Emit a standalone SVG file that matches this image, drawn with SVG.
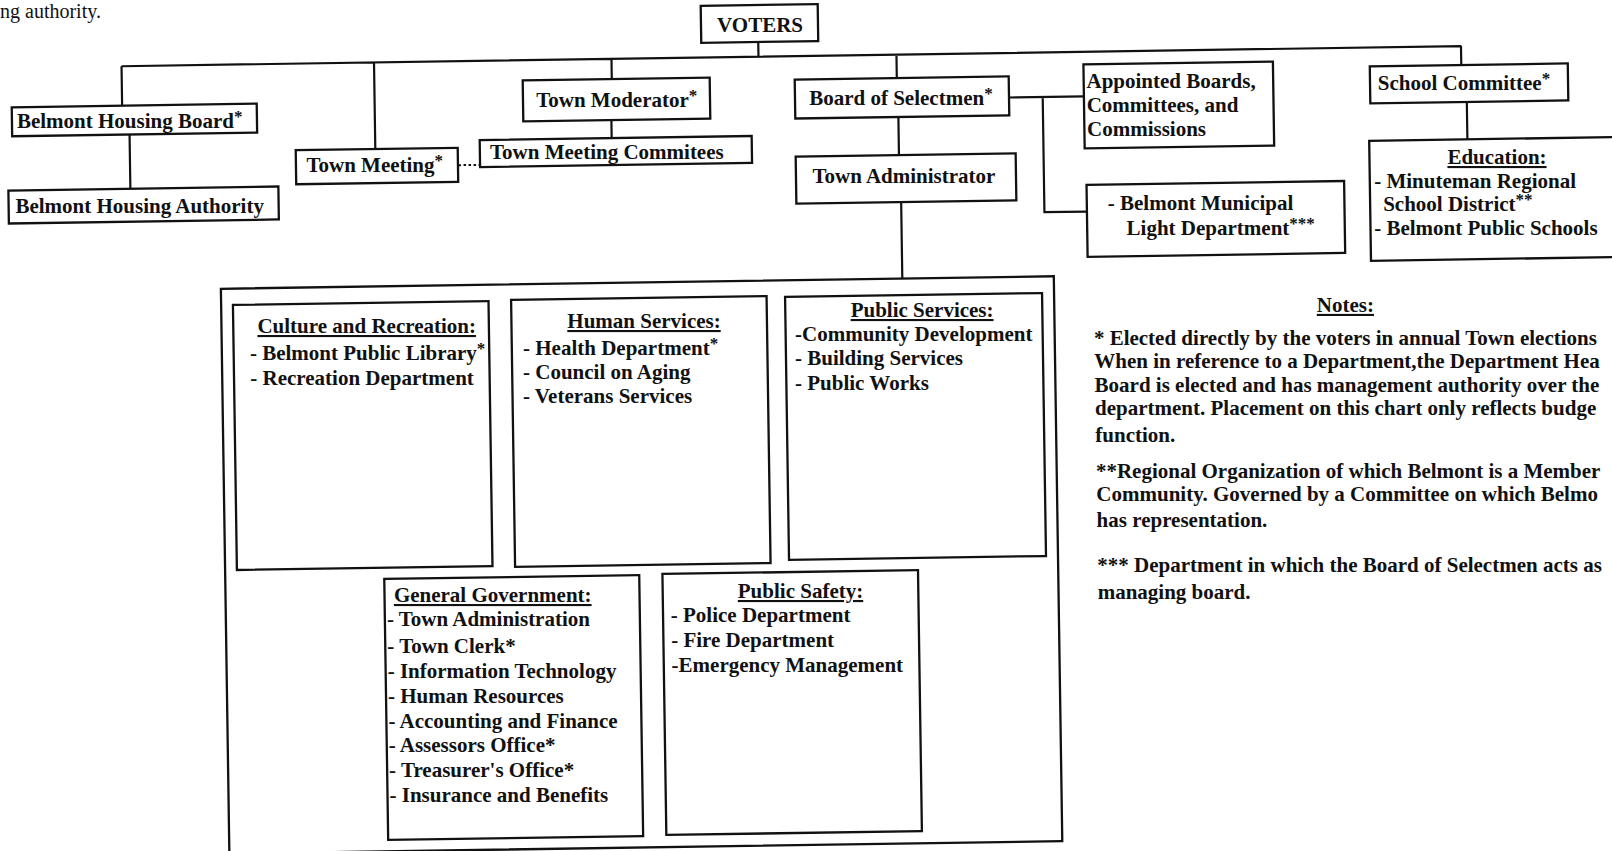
<svg xmlns="http://www.w3.org/2000/svg" width="1612" height="851" viewBox="0 0 1612 851">
<style>
.b{fill:none;stroke:#111;stroke-width:2.3}
.c{fill:none;stroke:#111;stroke-width:2.2}
.d{fill:none;stroke:#111;stroke-width:2;stroke-dasharray:2.5 2.5}
text{font-family:"Liberation Serif","DejaVu Serif",serif;font-size:21px;font-weight:bold;fill:#111}
.u{text-decoration:underline}
.m{text-anchor:middle}
.s{font-size:17px}
.r{font-weight:normal;font-size:20px}
</style>
<rect width="1612" height="851" fill="#fff"/>
<text class="r" x="0" y="18">ng authority.</text>
<g id="connectors" transform="rotate(-0.86 806 425)">
<path class="c" d="M764 41.3V56M127 56H1467M127 56V95.4M134 124.4V178.6M379.5 56V142.6M617 56V76.2M616 117.2V135.2M902 56V79.4M903 118.4V156.5M904.5 203.5V280M1013.9 100.6H1088.8M1047.6 100.6V215.8H1090.1M1466.6 56V74.9M1471.6 111.9V149.3"/>
<path class="d" d="M462.5 160H484"/>
</g>
<g id="voters"><rect class="b" transform="rotate(-0.86 806 425)" x="707" y="4.3" width="117" height="37"/><text class="m" x="760.1" y="32.1">VOTERS</text></g>
<g id="housing-board"><rect class="b" transform="rotate(-0.86 806 425)" x="16.6" y="95.4" width="245" height="29"/><text x="16.9" y="127.9">Belmont Housing Board<tspan class="s" dy="-6">*</tspan></text></g>
<g id="housing-authority"><rect class="b" transform="rotate(-0.86 806 425)" x="12" y="178.6" width="270" height="33"/><text x="15.4" y="213">Belmont Housing Authority</text></g>
<g id="town-meeting"><rect class="b" transform="rotate(-0.86 806 425)" x="299.9" y="142.6" width="162" height="34"/><text x="306.4" y="172">Town Meeting<tspan class="s" dy="-6">*</tspan></text></g>
<g id="town-meeting-committees"><rect class="b" transform="rotate(-0.86 806 425)" x="484" y="135.2" width="272" height="27"/><text x="490" y="158.5">Town Meeting Commitees</text></g>
<g id="town-moderator"><rect class="b" transform="rotate(-0.86 806 425)" x="527.9" y="76.2" width="187" height="41"/><text x="536.2" y="106.5">Town Moderator<tspan class="s" dy="-6">*</tspan></text></g>
<g id="board-of-selectmen"><rect class="b" transform="rotate(-0.86 806 425)" x="799.9" y="79.4" width="214" height="39"/><text x="809.2" y="104.9">Board of Selectmen<tspan class="s" dy="-6">*</tspan></text></g>
<g id="town-administrator"><rect class="b" transform="rotate(-0.86 806 425)" x="799.7" y="156.5" width="220" height="47"/><text x="812.4" y="183">Town Administrator</text></g>
<g id="appointed"><rect class="b" transform="rotate(-0.86 806 425)" x="1088.8" y="68.6" width="189.5" height="84"/><text x="1086.5" y="87.5">Appointed Boards,</text><text x="1086.7" y="112">Committees, and</text><text x="1087" y="136">Commissions</text></g>
<g id="light-dept"><rect class="b" transform="rotate(-0.86 806 425)" x="1090.1" y="189.1" width="257.6" height="72"/><text x="1107.8" y="210">- Belmont Municipal</text><text x="1126.6" y="234.5">Light Department<tspan class="s" dy="-6">***</tspan></text></g>
<g id="school-committee"><rect class="b" transform="rotate(-0.86 806 425)" x="1375.1" y="74.9" width="198" height="37"/><text x="1377.8" y="90">School Committee<tspan class="s" dy="-6">*</tspan></text></g>
<g id="education"><path class="b" transform="rotate(-0.86 806 425)" d="M1680 149.3H1373.4V269.3H1680"/><text class="m u" x="1497" y="164">Education:</text><text x="1374.2" y="187.5">- Minuteman Regional</text><text x="1383.2" y="211">School District<tspan class="s" dy="-6">**</tspan></text><text x="1374.2" y="234.5">- Belmont Public Schools</text></g>
<g id="departments"><rect class="b" transform="rotate(-0.86 806 425)" x="223" y="280" width="833" height="565"/></g>
<g id="culture"><rect class="b" transform="rotate(-0.86 806 425)" x="234.8" y="296.4" width="255.6" height="265"/><text class="m u" x="366.7" y="333">Culture and Recreation:</text><text x="249.9" y="360">- Belmont Public Library<tspan class="s" dy="-6">*</tspan></text><text x="250.3" y="385">- Recreation Department</text></g>
<g id="human"><rect class="b" transform="rotate(-0.86 806 425)" x="513" y="295.5" width="255.5" height="267"/><text class="m u" x="644" y="328">Human Services:</text><text x="523" y="355.1">- Health Department<tspan class="s" dy="-6">*</tspan></text><text x="523" y="379.1">- Council on Aging</text><text x="523" y="403.1">- Veterans Services</text></g>
<g id="public-services"><rect class="b" transform="rotate(-0.86 806 425)" x="787" y="296.6" width="257" height="263"/><text class="m u" x="922.1" y="317">Public Services:</text><text x="795" y="341">-Community Development</text><text x="795" y="365">- Building Services</text><text x="795" y="389.8">- Public Works</text></g>
<g id="general-government"><rect class="b" transform="rotate(-0.86 806 425)" x="382" y="572.6" width="255" height="261"/><text class="u" x="393.9" y="602">General Government:</text><text x="386.9" y="625.8">- Town Administration</text><text x="387.3" y="652.8">- Town Clerk*</text><text x="387.7" y="677.8">- Information Technology</text><text x="388" y="702.8">- Human Resources</text><text x="388.4" y="727.8">- Accounting and Finance</text><text x="388.7" y="751.8">- Assessors Office*</text><text x="389.1" y="776.8">- Treasurer's Office*</text><text x="389.5" y="801.8">- Insurance and Benefits</text></g>
<g id="public-safety"><rect class="b" transform="rotate(-0.86 806 425)" x="660.2" y="571.8" width="255.6" height="261"/><text class="m u" x="800.5" y="598">Public Safety:</text><text x="670.8" y="621.9">- Police Department</text><text x="671.2" y="646.9">- Fire Department</text><text x="671.6" y="671.9">-Emergency Management</text></g>
<g id="notes"><text class="m u" x="1345.4" y="311.9">Notes:</text>
<text x="1093.9" y="344.6">* Elected directly by the voters in annual Town elections</text>
<text x="1094.3" y="368.2">When in reference to a Department,the Department Hea</text>
<text x="1094.6" y="391.8">Board is elected and has management authority over the</text>
<text x="1095" y="415.4">department. Placement on this chart only reflects budge</text>
<text x="1095.3" y="441.5">function.</text>
<text x="1095.9" y="477.8">**Regional Organization of which Belmont is a Member</text>
<text x="1096.3" y="501.4">Community. Governed by a Committee on which Belmo</text>
<text x="1096.6" y="527.4">has representation.</text>
<text x="1097.3" y="571.8">*** Department in which the Board of Selectmen acts as</text>
<text x="1097.7" y="598.5">managing board.</text></g>
</svg>
